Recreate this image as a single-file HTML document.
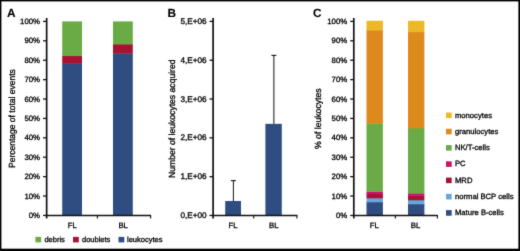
<!DOCTYPE html>
<html lang="en">
<head>
<meta charset="utf-8">
<title>Figure</title>
<style>
html,body{margin:0;padding:0;background:#fff;}
body{width:520px;height:251px;overflow:hidden;position:relative;}
svg{display:block;position:absolute;left:0;top:0;}
svg text{font-family:"Liberation Sans",sans-serif;fill:#000;stroke:#000;stroke-width:0.3px;text-rendering:geometricPrecision;}
</style>
</head>
<body>
<svg width="520" height="251" viewBox="0 0 520 251">
<defs><filter id="soft" x="0" y="0" width="520" height="251" filterUnits="userSpaceOnUse" color-interpolation-filters="sRGB"><feConvolveMatrix order="3" kernelMatrix="0.018 0.078 0.018 0.078 0.616 0.078 0.018 0.078 0.018" edgeMode="duplicate" preserveAlpha="true"/></filter></defs>
<rect x="0" y="0" width="520" height="251" fill="#ffffff"/>
<g filter="url(#soft)">
<rect x="0" y="0" width="520" height="251" fill="#ffffff"/>
<text x="7.00" y="17.00" font-size="11.8" text-anchor="start" font-weight="bold" style="stroke-width:0.1px">A</text>
<text transform="translate(15.00,118.60) rotate(-90) scale(0.957,1)" font-size="8.9" text-anchor="middle">Percentage of total events</text>
<rect x="62.20" y="63.51" width="19.80" height="152.24" fill="#2f4d80"/>
<rect x="62.20" y="55.75" width="19.80" height="8.06" fill="#a81232"/>
<rect x="62.20" y="21.40" width="19.80" height="34.65" fill="#6aab45"/>
<rect x="113.00" y="53.22" width="19.80" height="162.53" fill="#2f4d80"/>
<rect x="113.00" y="44.10" width="19.80" height="9.42" fill="#a81232"/>
<rect x="113.00" y="21.40" width="19.80" height="23.00" fill="#6aab45"/>
<line x1="43.05" y1="215.45" x2="46.65" y2="215.45" stroke="#111" stroke-width="1.3"/>
<text x="40.00" y="218.05" font-size="7.8" text-anchor="end" font-weight="normal" >0%</text>
<line x1="43.05" y1="196.04" x2="46.65" y2="196.04" stroke="#111" stroke-width="1.3"/>
<text x="40.00" y="198.64" font-size="7.8" text-anchor="end" font-weight="normal" >10%</text>
<line x1="43.05" y1="176.64" x2="46.65" y2="176.64" stroke="#111" stroke-width="1.3"/>
<text x="40.00" y="179.24" font-size="7.8" text-anchor="end" font-weight="normal" >20%</text>
<line x1="43.05" y1="157.23" x2="46.65" y2="157.23" stroke="#111" stroke-width="1.3"/>
<text x="40.00" y="159.83" font-size="7.8" text-anchor="end" font-weight="normal" >30%</text>
<line x1="43.05" y1="137.83" x2="46.65" y2="137.83" stroke="#111" stroke-width="1.3"/>
<text x="40.00" y="140.43" font-size="7.8" text-anchor="end" font-weight="normal" >40%</text>
<line x1="43.05" y1="118.42" x2="46.65" y2="118.42" stroke="#111" stroke-width="1.3"/>
<text x="40.00" y="121.02" font-size="7.8" text-anchor="end" font-weight="normal" >50%</text>
<line x1="43.05" y1="99.02" x2="46.65" y2="99.02" stroke="#111" stroke-width="1.3"/>
<text x="40.00" y="101.62" font-size="7.8" text-anchor="end" font-weight="normal" >60%</text>
<line x1="43.05" y1="79.62" x2="46.65" y2="79.62" stroke="#111" stroke-width="1.3"/>
<text x="40.00" y="82.22" font-size="7.8" text-anchor="end" font-weight="normal" >70%</text>
<line x1="43.05" y1="60.21" x2="46.65" y2="60.21" stroke="#111" stroke-width="1.3"/>
<text x="40.00" y="62.81" font-size="7.8" text-anchor="end" font-weight="normal" >80%</text>
<line x1="43.05" y1="40.81" x2="46.65" y2="40.81" stroke="#111" stroke-width="1.3"/>
<text x="40.00" y="43.41" font-size="7.8" text-anchor="end" font-weight="normal" >90%</text>
<line x1="43.05" y1="21.40" x2="46.65" y2="21.40" stroke="#111" stroke-width="1.3"/>
<text x="40.00" y="24.00" font-size="7.8" text-anchor="end" font-weight="normal" >100%</text>
<line x1="46.65" y1="18.00" x2="46.65" y2="218.45" stroke="#111" stroke-width="1.7"/>
<line x1="45.85" y1="215.45" x2="151.10" y2="215.45" stroke="#111" stroke-width="1.5"/>
<line x1="97.40" y1="215.45" x2="97.40" y2="218.45" stroke="#111" stroke-width="1.1"/>
<line x1="150.60" y1="215.45" x2="150.60" y2="218.45" stroke="#111" stroke-width="1.1"/>
<text x="72.40" y="228.30" font-size="7.8" text-anchor="middle" font-weight="normal" >FL</text>
<text x="123.20" y="228.30" font-size="7.8" text-anchor="middle" font-weight="normal" >BL</text>
<rect x="35.40" y="236.90" width="5.80" height="5.50" fill="#6aab45"/>
<text x="44.40" y="242.00" font-size="7.5" text-anchor="start" font-weight="normal" >debris</text>
<rect x="73.00" y="236.90" width="5.80" height="5.50" fill="#a81232"/>
<text x="82.00" y="242.00" font-size="7.5" text-anchor="start" font-weight="normal" >doublets</text>
<rect x="118.50" y="236.90" width="5.80" height="5.50" fill="#2f4d80"/>
<text x="127.00" y="242.00" font-size="7.5" text-anchor="start" font-weight="normal" >leukocytes</text>
<text x="167.40" y="17.00" font-size="11.8" text-anchor="start" font-weight="bold" style="stroke-width:0.1px">B</text>
<text transform="translate(175.00,118.70) rotate(-90) scale(0.968,1)" font-size="8.9" text-anchor="middle">Number of leukocytes acquired</text>
<rect x="225.20" y="201.01" width="15.80" height="14.74" fill="#2f4d80"/>
<rect x="265.40" y="123.86" width="16.40" height="91.89" fill="#2f4d80"/>
<line x1="233.40" y1="201.01" x2="233.40" y2="180.64" stroke="#111" stroke-width="1.0"/>
<line x1="230.90" y1="180.64" x2="235.90" y2="180.64" stroke="#111" stroke-width="1.1"/>
<line x1="273.90" y1="123.86" x2="273.90" y2="55.36" stroke="#111" stroke-width="1.0"/>
<line x1="271.40" y1="55.36" x2="276.40" y2="55.36" stroke="#111" stroke-width="1.1"/>
<line x1="209.50" y1="215.45" x2="213.10" y2="215.45" stroke="#111" stroke-width="1.3"/>
<text x="206.70" y="218.05" font-size="8.2" text-anchor="end" font-weight="normal" >0,E+00</text>
<line x1="209.50" y1="176.64" x2="213.10" y2="176.64" stroke="#111" stroke-width="1.3"/>
<text x="206.70" y="179.24" font-size="8.2" text-anchor="end" font-weight="normal" >1,E+06</text>
<line x1="209.50" y1="137.83" x2="213.10" y2="137.83" stroke="#111" stroke-width="1.3"/>
<text x="206.70" y="140.43" font-size="8.2" text-anchor="end" font-weight="normal" >2,E+06</text>
<line x1="209.50" y1="99.02" x2="213.10" y2="99.02" stroke="#111" stroke-width="1.3"/>
<text x="206.70" y="101.62" font-size="8.2" text-anchor="end" font-weight="normal" >3,E+06</text>
<line x1="209.50" y1="60.21" x2="213.10" y2="60.21" stroke="#111" stroke-width="1.3"/>
<text x="206.70" y="62.81" font-size="8.2" text-anchor="end" font-weight="normal" >4,E+06</text>
<line x1="209.50" y1="21.40" x2="213.10" y2="21.40" stroke="#111" stroke-width="1.3"/>
<text x="206.70" y="24.00" font-size="8.2" text-anchor="end" font-weight="normal" >5,E+06</text>
<line x1="213.10" y1="18.00" x2="213.10" y2="218.45" stroke="#111" stroke-width="1.7"/>
<line x1="212.30" y1="215.45" x2="297.40" y2="215.45" stroke="#111" stroke-width="1.5"/>
<line x1="253.70" y1="215.45" x2="253.70" y2="218.45" stroke="#111" stroke-width="1.1"/>
<line x1="296.90" y1="215.45" x2="296.90" y2="218.45" stroke="#111" stroke-width="1.1"/>
<text x="233.00" y="228.30" font-size="7.8" text-anchor="middle" font-weight="normal" >FL</text>
<text x="273.80" y="228.30" font-size="7.8" text-anchor="middle" font-weight="normal" >BL</text>
<text x="313.00" y="17.00" font-size="11.8" text-anchor="start" font-weight="bold" style="stroke-width:0.1px">C</text>
<text transform="translate(321.00,118.70) rotate(-90) scale(0.975,1)" font-size="8.9" text-anchor="middle">% of leukocytes</text>
<rect x="366.50" y="202.00" width="16.40" height="13.75" fill="#2f4d80"/>
<rect x="366.50" y="198.00" width="16.40" height="4.30" fill="#64a8de"/>
<rect x="366.50" y="194.00" width="16.40" height="4.30" fill="#a81232"/>
<rect x="366.50" y="191.40" width="16.40" height="2.90" fill="#cb116a"/>
<rect x="366.50" y="123.30" width="16.40" height="68.40" fill="#6aab45"/>
<rect x="366.50" y="30.10" width="16.40" height="93.50" fill="#dc8a1c"/>
<rect x="366.50" y="20.80" width="16.40" height="9.60" fill="#ecb828"/>
<rect x="408.00" y="204.00" width="16.40" height="11.75" fill="#2f4d80"/>
<rect x="408.00" y="200.00" width="16.40" height="4.30" fill="#64a8de"/>
<rect x="408.00" y="195.60" width="16.40" height="4.70" fill="#a81232"/>
<rect x="408.00" y="193.20" width="16.40" height="2.70" fill="#cb116a"/>
<rect x="408.00" y="128.00" width="16.40" height="65.50" fill="#6aab45"/>
<rect x="408.00" y="31.90" width="16.40" height="96.40" fill="#dc8a1c"/>
<rect x="408.00" y="20.80" width="16.40" height="11.40" fill="#ecb828"/>
<line x1="350.20" y1="215.45" x2="353.80" y2="215.45" stroke="#111" stroke-width="1.3"/>
<text x="347.20" y="218.05" font-size="7.8" text-anchor="end" font-weight="normal" >0%</text>
<line x1="350.20" y1="196.04" x2="353.80" y2="196.04" stroke="#111" stroke-width="1.3"/>
<text x="347.20" y="198.64" font-size="7.8" text-anchor="end" font-weight="normal" >10%</text>
<line x1="350.20" y1="176.64" x2="353.80" y2="176.64" stroke="#111" stroke-width="1.3"/>
<text x="347.20" y="179.24" font-size="7.8" text-anchor="end" font-weight="normal" >20%</text>
<line x1="350.20" y1="157.23" x2="353.80" y2="157.23" stroke="#111" stroke-width="1.3"/>
<text x="347.20" y="159.83" font-size="7.8" text-anchor="end" font-weight="normal" >30%</text>
<line x1="350.20" y1="137.83" x2="353.80" y2="137.83" stroke="#111" stroke-width="1.3"/>
<text x="347.20" y="140.43" font-size="7.8" text-anchor="end" font-weight="normal" >40%</text>
<line x1="350.20" y1="118.42" x2="353.80" y2="118.42" stroke="#111" stroke-width="1.3"/>
<text x="347.20" y="121.02" font-size="7.8" text-anchor="end" font-weight="normal" >50%</text>
<line x1="350.20" y1="99.02" x2="353.80" y2="99.02" stroke="#111" stroke-width="1.3"/>
<text x="347.20" y="101.62" font-size="7.8" text-anchor="end" font-weight="normal" >60%</text>
<line x1="350.20" y1="79.62" x2="353.80" y2="79.62" stroke="#111" stroke-width="1.3"/>
<text x="347.20" y="82.22" font-size="7.8" text-anchor="end" font-weight="normal" >70%</text>
<line x1="350.20" y1="60.21" x2="353.80" y2="60.21" stroke="#111" stroke-width="1.3"/>
<text x="347.20" y="62.81" font-size="7.8" text-anchor="end" font-weight="normal" >80%</text>
<line x1="350.20" y1="40.81" x2="353.80" y2="40.81" stroke="#111" stroke-width="1.3"/>
<text x="347.20" y="43.41" font-size="7.8" text-anchor="end" font-weight="normal" >90%</text>
<line x1="350.20" y1="21.40" x2="353.80" y2="21.40" stroke="#111" stroke-width="1.3"/>
<text x="347.20" y="24.00" font-size="7.8" text-anchor="end" font-weight="normal" >100%</text>
<line x1="353.80" y1="18.00" x2="353.80" y2="218.45" stroke="#111" stroke-width="1.7"/>
<line x1="353.00" y1="215.45" x2="437.90" y2="215.45" stroke="#111" stroke-width="1.5"/>
<line x1="395.40" y1="215.45" x2="395.40" y2="218.45" stroke="#111" stroke-width="1.1"/>
<line x1="437.40" y1="215.45" x2="437.40" y2="218.45" stroke="#111" stroke-width="1.1"/>
<text x="374.40" y="228.30" font-size="7.8" text-anchor="middle" font-weight="normal" >FL</text>
<text x="415.60" y="228.30" font-size="7.8" text-anchor="middle" font-weight="normal" >BL</text>
<rect x="446.00" y="112.50" width="5.70" height="5.60" fill="#ecb828"/>
<text x="455.00" y="118.00" font-size="7.65" text-anchor="start" font-weight="normal" >monocytes</text>
<rect x="446.00" y="128.77" width="5.70" height="5.60" fill="#dc8a1c"/>
<text x="455.00" y="134.00" font-size="7.65" text-anchor="start" font-weight="normal" >granulocytes</text>
<rect x="446.00" y="145.04" width="5.70" height="5.60" fill="#6aab45"/>
<text x="455.00" y="150.00" font-size="7.65" text-anchor="start" font-weight="normal" >NK/T-cells</text>
<rect x="446.00" y="161.31" width="5.70" height="5.60" fill="#cb116a"/>
<text x="455.00" y="166.00" font-size="7.65" text-anchor="start" font-weight="normal" >PC</text>
<rect x="446.00" y="177.58" width="5.70" height="5.60" fill="#a81232"/>
<text x="455.00" y="183.00" font-size="7.65" text-anchor="start" font-weight="normal" >MRD</text>
<rect x="446.00" y="193.85" width="5.70" height="5.60" fill="#64a8de"/>
<text x="455.00" y="199.00" font-size="7.65" text-anchor="start" font-weight="normal" >normal BCP cells</text>
<rect x="446.00" y="210.12" width="5.70" height="5.60" fill="#2f4d80"/>
<text x="455.00" y="215.00" font-size="7.65" text-anchor="start" font-weight="normal" >Mature B-cells</text>
<rect x="0" y="0" width="520" height="1.4" fill="#000"/>
<rect x="0" y="248.7" width="520" height="2.3" fill="#000"/>
<rect x="0" y="0" width="1.4" height="251" fill="#000"/>
<rect x="518.4" y="0" width="1.6" height="251" fill="#000"/>
</g>
</svg>
</body>
</html>
